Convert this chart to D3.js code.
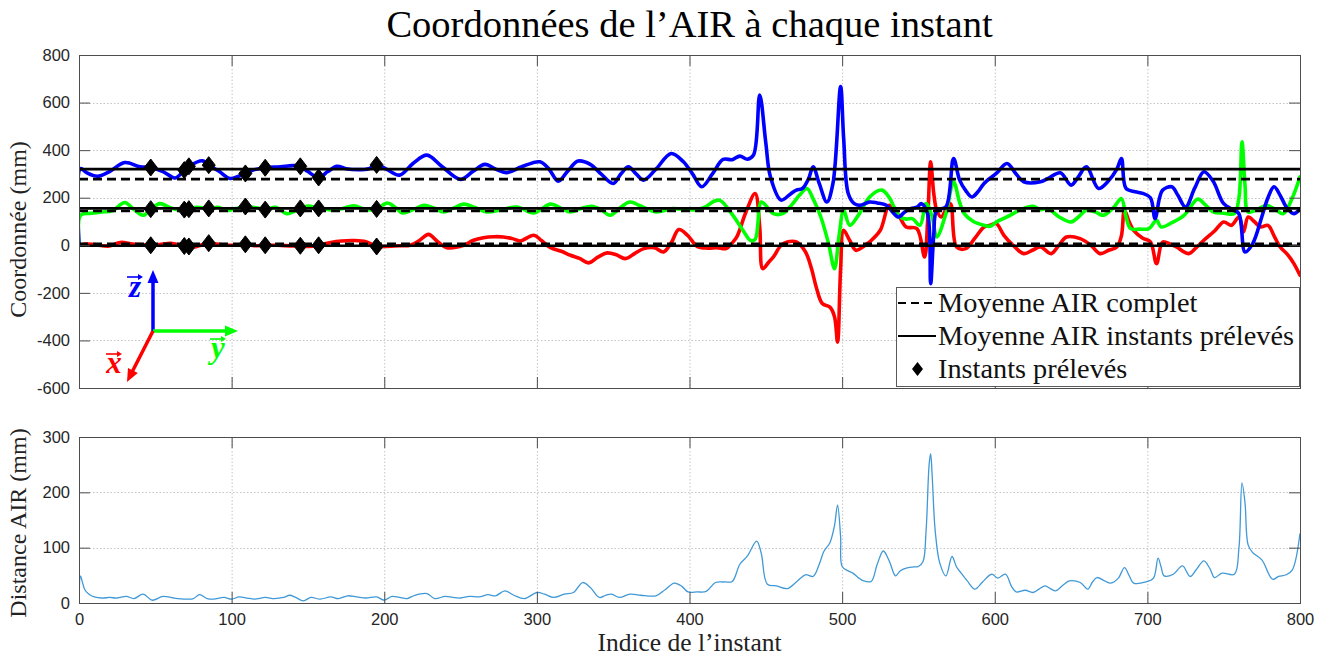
<!DOCTYPE html>
<html>
<head>
<meta charset="utf-8">
<script src="https://cdn.jsdelivr.net/npm/d3@7"></script>
<style>
  body { margin: 0; background: #fff; }
  svg { display: block; }
</style>
</head>
<body>
<svg id="chart" width="1330" height="657"></svg>
<script>
// ---- data -------------------------------------------------------------
const xTickValues = [0, 100, 200, 300, 400, 500, 600, 700, 800];
const yTickValuesCoord = [-600, -400, -200, 0, 200, 400, 600, 800];
const yTickValuesDist = [0, 100, 200, 300];

// instants retained for the sampled mean
const sampledInstants = [47, 69, 72, 85, 109, 122, 145, 157, 195];

// AIR coordinates [instant, mm]
const coordX = [[0,0],[5,5],[10,3],[20,-3],[27,12],[35,5],[40,3],[47,0],[55,5],[60,8],[69,-3],[72,-5],[75,-8],[85,9],[90,5],[100,0],[109,4],[115,-2],[122,0],[130,0],[140,-3],[145,-2],[150,-5],[157,0],[165,12],[172,18],[180,20],[188,15],[195,-5],[200,-5],[210,-2],[217,0],[223,20],[229,46],[235,15],[241,-10],[252,0],[258,20],[265,32],[272,36],[278,35],[284,28],[289,18],[298,42],[303,20],[309,-10],[316,-25],[322,-42],[328,-55],[334,-74],[340,-50],[346,-32],[352,-40],[358,-56],[364,-35],[370,-14],[377,-10],[383,-28],[388,10],[393,66],[399,40],[405,-5],[412,-12],[418,-10],[424,-14],[428,10],[431,35],[437,140],[443,218],[446,77],[448,-98],[452,-70],[455,-49],[460,0],[464,14],[470,14],[476,-28],[480,-100],[483,-175],[487,-245],[492,-260],[495,-300],[497,-407],[499,-100],[501,63],[505,20],[509,-21],[514,-5],[518,14],[525,63],[531,168],[537,126],[542,77],[549,70],[554,-49],[556,100],[558,351],[560,220],[562,147],[565,119],[568,150],[571,175],[575,-7],[581,-14],[587,30],[593,77],[597,84],[601,91],[606,42],[612,0],[619,-35],[625,-20],[630,-7],[637,-35],[642,0],[647,35],[656,28],[663,0],[669,-35],[675,-20],[680,-7],[683,40],[685,147],[688,100],[691,63],[697,30],[702,14],[706,-77],[710,14],[715,5],[719,-7],[727,-35],[732,-10],[737,21],[744,60],[750,98],[755,84],[760,119],[763,56],[766,119],[770,100],[774,77],[779,84],[783,40],[787,-7],[792,-40],[796,-77],[800,-126]];

const coordY = [[0,0],[1,126],[8,135],[15,140],[22,145],[30,180],[36,150],[42,126],[47,152],[53,175],[59,160],[64,150],[69,150],[72,152],[77,160],[85,155],[91,160],[97,147],[103,155],[109,163],[116,158],[122,150],[129,160],[136,133],[140,140],[145,155],[150,165],[157,155],[162,152],[167,147],[173,155],[180,166],[188,150],[195,153],[202,178],[207,160],[212,136],[219,150],[226,168],[232,158],[239,140],[245,155],[252,173],[259,160],[267,140],[277,150],[287,161],[298,136],[309,173],[316,155],[322,140],[329,155],[336,164],[342,150],[348,126],[355,160],[361,182],[368,165],[378,140],[389,154],[398,150],[405,150],[410,160],[416,185],[420,189],[428,130],[435,63],[440,20],[443,25],[447,182],[451,160],[455,133],[461,133],[467,170],[472,210],[477,239],[481,195],[486,120],[491,10],[495,-98],[498,40],[501,147],[505,84],[511,130],[518,203],[526,232],[531,200],[534,161],[538,119],[542,110],[546,112],[551,84],[555,175],[559,120],[562,35],[568,133],[573,267],[577,180],[580,133],[586,100],[593,84],[597,80],[601,98],[610,126],[617,150],[625,164],[630,150],[635,154],[642,120],[650,98],[655,120],[660,147],[666,140],[671,126],[678,160],[683,196],[686,120],[689,70],[695,68],[701,70],[706,105],[709,77],[716,95],[724,126],[733,194],[738,170],[743,140],[750,135],[757,133],[760,200],[762,435],[764,250],[766,140],[772,150],[778,168],[784,150],[789,133],[795,200],[800,288]];

const coordZ = [[0,0],[1,322],[5,305],[12,290],[20,310],[30,348],[40,330],[47,327],[55,310],[63,283],[69,316],[72,332],[81,355],[85,337],[92,310],[99,281],[109,302],[115,318],[122,326],[132,330],[140,335],[145,332],[150,310],[157,285],[163,310],[169,332],[175,322],[183,318],[190,322],[195,338],[202,318],[210,295],[219,345],[228,379],[238,330],[250,277],[258,310],[266,340],[273,320],[280,305],[290,330],[302,351],[308,320],[314,269],[320,310],[327,354],[335,340],[342,300],[350,260],[355,300],[360,330],[365,300],[370,274],[378,320],[388,386],[396,351],[402,300],[408,246],[415,300],[422,361],[428,360],[433,375],[438,362],[442,380],[446,632],[450,430],[453,288],[460,190],[466,215],[470,232],[474,239],[478,280],[481,330],[485,260],[490,182],[494,260],[499,667],[501,450],[504,218],[508,175],[512,168],[518,182],[523,178],[529,168],[533,140],[537,119],[541,140],[545,154],[549,160],[552,175],[556,133],[558,-161],[560,40],[562,147],[568,161],[573,365],[577,274],[581,230],[585,203],[589,225],[593,260],[601,302],[608,344],[614,300],[619,267],[630,267],[635,281],[643,305],[650,253],[655,290],[660,330],[668,239],[674,267],[680,320],[683,365],[686,239],[692,225],[697,218],[702,200],[705,112],[708,200],[710,232],[716,246],[720,210],[725,161],[731,240],[737,309],[743,270],[750,175],[756,150],[760,133],[764,-28],[769,7],[775,120],[779,200],[783,246],[787,210],[791,161],[796,133],[800,154]];

// means, ordered x, y, z
const meanComplete = [6, 144, 278];
const meanSampled = [-2, 155, 320];
const axisColors = ["#ff0000", "#00ff00", "#0000ff"];

// AIR distance [instant, mm]
const distanceAIR = [[0,0],[1,49],[2,40],[4,23],[7,15],[10,11],[15,9],[20,10],[25,9],[31,12],[36,8],[42,16],[48,5],[55,12],[62,9],[70,7],[75,8],[79,15],[84,8],[88,7],[95,10],[100,7],[105,11],[110,9],[115,7],[122,10],[128,8],[134,10],[138,14],[142,10],[147,4],[152,10],[158,7],[165,11],[170,8],[176,13],[182,11],[188,9],[195,11],[200,5],[205,12],[210,10],[215,8],[220,14],[228,17],[233,8],[240,12],[245,10],[250,9],[256,12],[262,11],[268,15],[273,13],[279,22],[285,14],[292,8],[300,19],[305,16],[311,10],[318,16],[324,19],[330,37],[335,28],[341,10],[345,14],[349,16],[354,10],[361,16],[368,14],[378,13],[384,24],[390,36],[395,30],[399,20],[405,20],[411,21],[417,37],[423,38],[428,39],[433,70],[438,85],[444,112],[447,90],[451,34],[457,31],[464,26],[470,38],[476,51],[481,48],[485,70],[488,93],[492,109],[495,140],[497,177],[499,120],[500,66],[504,58],[507,54],[511,45],[514,40],[519,39],[523,70],[527,94],[531,75],[535,49],[538,58],[542,63],[546,65],[550,66],[553,75],[555,130],[557,250],[558,270],[559,230],[561,130],[564,72],[568,49],[572,84],[575,65],[578,54],[582,40],[587,25],[592,38],[598,52],[602,45],[607,52],[611,30],[614,20],[620,23],[625,19],[629,25],[633,31],[637,25],[640,22],[645,33],[649,40],[656,37],[661,25],[664,38],[667,46],[672,40],[676,36],[681,45],[685,64],[688,50],[691,36],[699,38],[704,45],[707,81],[709,65],[711,49],[717,52],[723,67],[728,48],[732,60],[737,76],[741,62],[744,46],[749,54],[757,52],[760,100],[762,217],[764,180],[766,105],[769,91],[775,78],[782,43],[786,48],[791,51],[795,60],[800,126]];

// ---- layout -----------------------------------------------------------
const svg = d3.select("#chart");
const L = 79, R = 1300;
const top1 = 55, bot1 = 388;
const top2 = 437, bot2 = 603;
const tickLen = 11;
const sans = "'Liberation Sans', Arial, sans-serif";
const serif = "'Liberation Serif', 'Times New Roman', serif";

const x = d3.scaleLinear().domain([0, 800]).range([L, R]);
const yC = d3.scaleLinear().domain([-600, 800]).range([bot1, top1]);
const yD = d3.scaleLinear().domain([0, 300]).range([bot2, top2]);

svg.append("rect").attr("width", 1330).attr("height", 657).attr("fill", "#fff");

function panel(y, yTicks, yTop, yBot) {
  const g = svg.append("g");
  g.append("rect").attr("x", L).attr("y", yTop).attr("width", R - L).attr("height", yBot - yTop).attr("fill", "#fff");
  // dotted grid
  const grid = g.append("g").attr("stroke", "#c4c4c4").attr("stroke-width", 1).attr("stroke-dasharray", "1.5,2");
  grid.selectAll(".gv").data(xTickValues.filter(d => d > 0 && d < 800)).join("line")
    .attr("x1", d => x(d) + 0.5).attr("x2", d => x(d) + 0.5).attr("y1", yTop).attr("y2", yBot);
  grid.selectAll(".gh").data(yTicks.filter(d => d > y.domain()[0] && d < y.domain()[1])).join("line")
    .attr("y1", d => Math.round(y(d)) + 0.5).attr("y2", d => Math.round(y(d)) + 0.5).attr("x1", L).attr("x2", R);
  return g;
}

function frame(y, yTicks, yTop, yBot, showXLabels) {
  const g = svg.append("g");
  const fmt = d => String(d);
  const style = sel => {
    sel.select(".domain").remove();
    sel.selectAll(".tick line").attr("stroke", "#4d4d4d");
    sel.selectAll(".tick text").attr("font-family", sans).attr("font-size", "16.5px").attr("fill", "#262626");
  };
  g.append("g").attr("transform", `translate(${L},0)`)
    .call(d3.axisLeft(y).tickValues(yTicks).tickSize(-tickLen).tickPadding(9).tickFormat(fmt)).call(style);
  g.append("g").attr("transform", `translate(${R},0)`)
    .call(d3.axisRight(y).tickValues(yTicks).tickSize(-tickLen).tickFormat("")).call(style);
  g.append("g").attr("transform", `translate(0,${yBot})`)
    .call(d3.axisBottom(x).tickValues(xTickValues).tickSize(-tickLen).tickPadding(10).tickFormat(showXLabels ? fmt : "")).call(style);
  g.append("g").attr("transform", `translate(0,${yTop})`)
    .call(d3.axisTop(x).tickValues(xTickValues).tickSize(-tickLen).tickFormat("")).call(style);
  g.append("rect").attr("x", L + 0.5).attr("y", yTop + 0.5).attr("width", R - L).attr("height", yBot - yTop)
    .attr("fill", "none").attr("stroke", "#4d4d4d").attr("stroke-width", 1);
}

// ---- upper panel: coordinates ----------------------------------------
panel(yC, yTickValuesCoord, top1, bot1);

svg.append("clipPath").attr("id", "clipC").append("rect")
  .attr("x", L).attr("y", top1).attr("width", R - L).attr("height", bot1 - top1);

const lineC = d3.line().x(d => x(d[0])).y(d => yC(d[1])).curve(d3.curveCatmullRom.alpha(0.5));
const gC = svg.append("g").attr("clip-path", "url(#clipC)");
[coordX, coordY, coordZ].forEach((s, i) => {
  gC.append("path").datum(s).attr("d", lineC).attr("fill", "none")
    .attr("stroke", axisColors[i]).attr("stroke-width", 3.6)
    .attr("stroke-linejoin", "round").attr("stroke-linecap", "round");
});

// mean lines
meanSampled.forEach(m => {
  gC.append("line").attr("x1", x(0)).attr("x2", x(800)).attr("y1", yC(m)).attr("y2", yC(m))
    .attr("stroke", "#000").attr("stroke-width", 2.6);
});
meanComplete.forEach(m => {
  gC.append("line").attr("x1", x(0)).attr("x2", x(800)).attr("y1", yC(m)).attr("y2", yC(m))
    .attr("stroke", "#000").attr("stroke-width", 2.6).attr("stroke-dasharray", "9,5");
});

// diamonds at the sampled instants
function diamondPath(cx, cy, w, h) {
  return `M${cx},${cy - h}L${cx + w},${cy}L${cx},${cy + h}L${cx - w},${cy}Z`;
}
const marks = [];
[coordX, coordY, coordZ].forEach(s => {
  sampledInstants.forEach(t => {
    const p = s.find(d => d[0] === t);
    marks.push([t, p[1]]);
  });
});
gC.selectAll(".dia").data(marks).join("path")
  .attr("d", d => diamondPath(x(d[0]), yC(d[1]), 6.5, 8.5))
  .attr("fill", "#000").attr("stroke", "#000").attr("stroke-width", 1);

frame(yC, yTickValuesCoord, top1, bot1, false);

// reference frame glyph
function arrow(g, x1, y1, x2, y2, color, w, hl, hw) {
  const a = Math.atan2(y2 - y1, x2 - x1);
  const bx = x2 - Math.cos(a) * hl, by = y2 - Math.sin(a) * hl;
  g.append("line").attr("x1", x1).attr("y1", y1).attr("x2", bx + Math.cos(a)).attr("y2", by + Math.sin(a))
    .attr("stroke", color).attr("stroke-width", w);
  const px = -Math.sin(a) * hw, py = Math.cos(a) * hw;
  g.append("path").attr("d", `M${x2},${y2}L${bx + px},${by + py}L${bx - px},${by - py}Z`).attr("fill", color);
}
const glyph = svg.append("g");
const ox = 153, oy = 331;
arrow(glyph, ox, oy, ox, 270, "#0000ff", 3.5, 13, 5.5);
arrow(glyph, ox, oy, 238, oy, "#00ff00", 3.5, 13, 5.5);
arrow(glyph, ox, oy, 127, 382, "#ff0000", 3.5, 13, 5.5);

function vecLabel(g, letter, cx, baseline, arrowY, color) {
  g.append("text").attr("x", cx).attr("y", baseline).attr("text-anchor", "middle")
    .attr("font-family", serif).attr("font-style", "italic").attr("font-weight", "bold")
    .attr("font-size", "31px").attr("fill", color).text(letter);
  arrow(g, cx - 8, arrowY, cx + 8, arrowY, color, 1.6, 5, 3);
}
vecLabel(glyph, "z", 135, 297, 277, "#0000ff");
vecLabel(glyph, "y", 218, 358, 339, "#00ff00");
vecLabel(glyph, "x", 114, 373, 354, "#ff0000");

// legend
const lg = svg.append("g");
lg.append("rect").attr("x", 896.5).attr("y", 287.5).attr("width", 403).attr("height", 99)
  .attr("fill", "#fff").attr("stroke", "#5a5a5a").attr("stroke-width", 1);
const legendRows = [
  { label: "Moyenne AIR complet", kind: "dash", cy: 303 },
  { label: "Moyenne AIR instants prélevés", kind: "solid", cy: 336 },
  { label: "Instants prélevés", kind: "diamond", cy: 369 }
];
legendRows.forEach(r => {
  if (r.kind === "diamond") {
    lg.append("path").attr("d", diamondPath(917.5, r.cy, 5.5, 7)).attr("fill", "#000");
  } else {
    lg.append("line").attr("x1", 898).attr("x2", 936).attr("y1", r.cy).attr("y2", r.cy)
      .attr("stroke", "#000").attr("stroke-width", 2)
      .attr("stroke-dasharray", r.kind === "dash" ? "8,5" : null);
  }
  lg.append("text").attr("x", 938).attr("y", r.cy + 9).attr("font-family", serif)
    .attr("font-size", "28.3px").attr("fill", "#111").text(r.label);
});

// ---- lower panel: distance --------------------------------------------
panel(yD, yTickValuesDist, top2, bot2);
svg.append("clipPath").attr("id", "clipD").append("rect")
  .attr("x", L).attr("y", top2).attr("width", R - L).attr("height", bot2 - top2);
const lineD = d3.line().x(d => x(d[0])).y(d => yD(d[1])).curve(d3.curveCatmullRom.alpha(0.5));
svg.append("g").attr("clip-path", "url(#clipD)").append("path").datum(distanceAIR)
  .attr("d", lineD).attr("fill", "none").attr("stroke", "#4099d6").attr("stroke-width", 1.3)
  .attr("stroke-linejoin", "round");
frame(yD, yTickValuesDist, top2, bot2, true);

// ---- titles -------------------------------------------------------------
svg.append("text").attr("x", (L + R) / 2).attr("y", 37).attr("text-anchor", "middle")
  .attr("font-family", serif).attr("font-size", "38.5px").attr("fill", "#000")
  .text("Coordonnées de l’AIR à chaque instant");
svg.append("text").attr("transform", `translate(26,${(top1 + bot1) / 2 + 8}) rotate(-90)`)
  .attr("text-anchor", "middle").attr("font-family", serif).attr("font-size", "24px").attr("fill", "#222")
  .text("Coordonnée (mm)");
svg.append("text").attr("transform", `translate(26,${(top2 + bot2) / 2 + 3}) rotate(-90)`)
  .attr("text-anchor", "middle").attr("font-family", serif).attr("font-size", "24px").attr("fill", "#222")
  .text("Distance AIR (mm)");
svg.append("text").attr("x", (L + R) / 2).attr("y", 651).attr("text-anchor", "middle")
  .attr("font-family", serif).attr("font-size", "25.5px").attr("fill", "#222")
  .text("Indice de l’instant");
</script>
</body>
</html>
